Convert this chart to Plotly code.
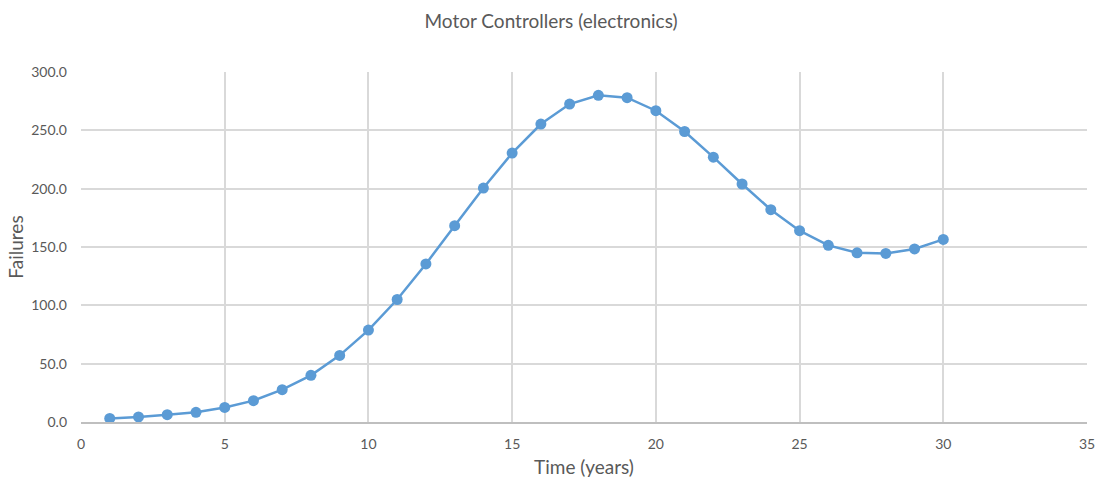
import plotly.graph_objects as go

# Failures per year for motor controllers (electronics)
years = list(range(1, 31))
failures = [3.1, 4.3, 6.3, 8.3, 12.5, 18.3, 27.7, 40.0, 57.1, 78.8,
            105.0, 135.5, 168.3, 200.5, 230.5, 255.4, 272.5, 280.0, 278.0, 266.8,
            249.0, 227.0, 204.0, 182.0, 164.0, 151.4, 145.0, 144.5, 148.3, 156.5]

x_ticks = [0, 5, 10, 15, 20, 25, 30, 35]
y_ticks = [0, 50, 100, 150, 200, 250, 300]

font_family = "Lato, 'Open Sans', sans-serif"
grid_color = "#D9D9D9"
text_color = "#595959"

fig = go.Figure(
    go.Scatter(
        x=years,
        y=failures,
        mode="lines+markers",
        line=dict(color="#5B9BD5", width=2.5),
        marker=dict(color="#5B9BD5", size=11),
        showlegend=False,
    )
)

fig.update_layout(
    width=1102,
    height=478,
    margin=dict(l=81, r=15, t=72, b=56),
    paper_bgcolor="white",
    plot_bgcolor="white",
    font=dict(family=font_family, color=text_color, size=14),
    title=dict(
        text="Motor Controllers (electronics)",
        x=0.5,
        xanchor="center",
        y=0.955,
        yanchor="middle",
        font=dict(size=19, color=text_color, family=font_family),
    ),
)

fig.update_xaxes(
    range=[0, 35],
    tickvals=x_ticks,
    ticktext=[str(v) for v in x_ticks],
    automargin=False,
    showgrid=True,
    gridcolor=grid_color,
    gridwidth=1.5,
    zeroline=False,
    showline=True,
    linecolor="#BFBFBF",
    linewidth=1.5,
    ticks="",
    ticklabelstandoff=8,
    tickfont=dict(size=14, color=text_color),
    title=dict(text="Time (years)", font=dict(size=19, color=text_color), standoff=10),
)

fig.update_yaxes(
    range=[0, 300],
    tickvals=y_ticks,
    ticktext=[f"{v:.1f}" for v in y_ticks],
    automargin=False,
    showgrid=True,
    gridcolor=grid_color,
    gridwidth=1.5,
    zeroline=False,
    showline=False,
    ticks="",
    ticklabelstandoff=13,
    tickfont=dict(size=14, color=text_color),
    title=dict(text="Failures", font=dict(size=19, color=text_color), standoff=2),
)

fig.write_html("out.html")
